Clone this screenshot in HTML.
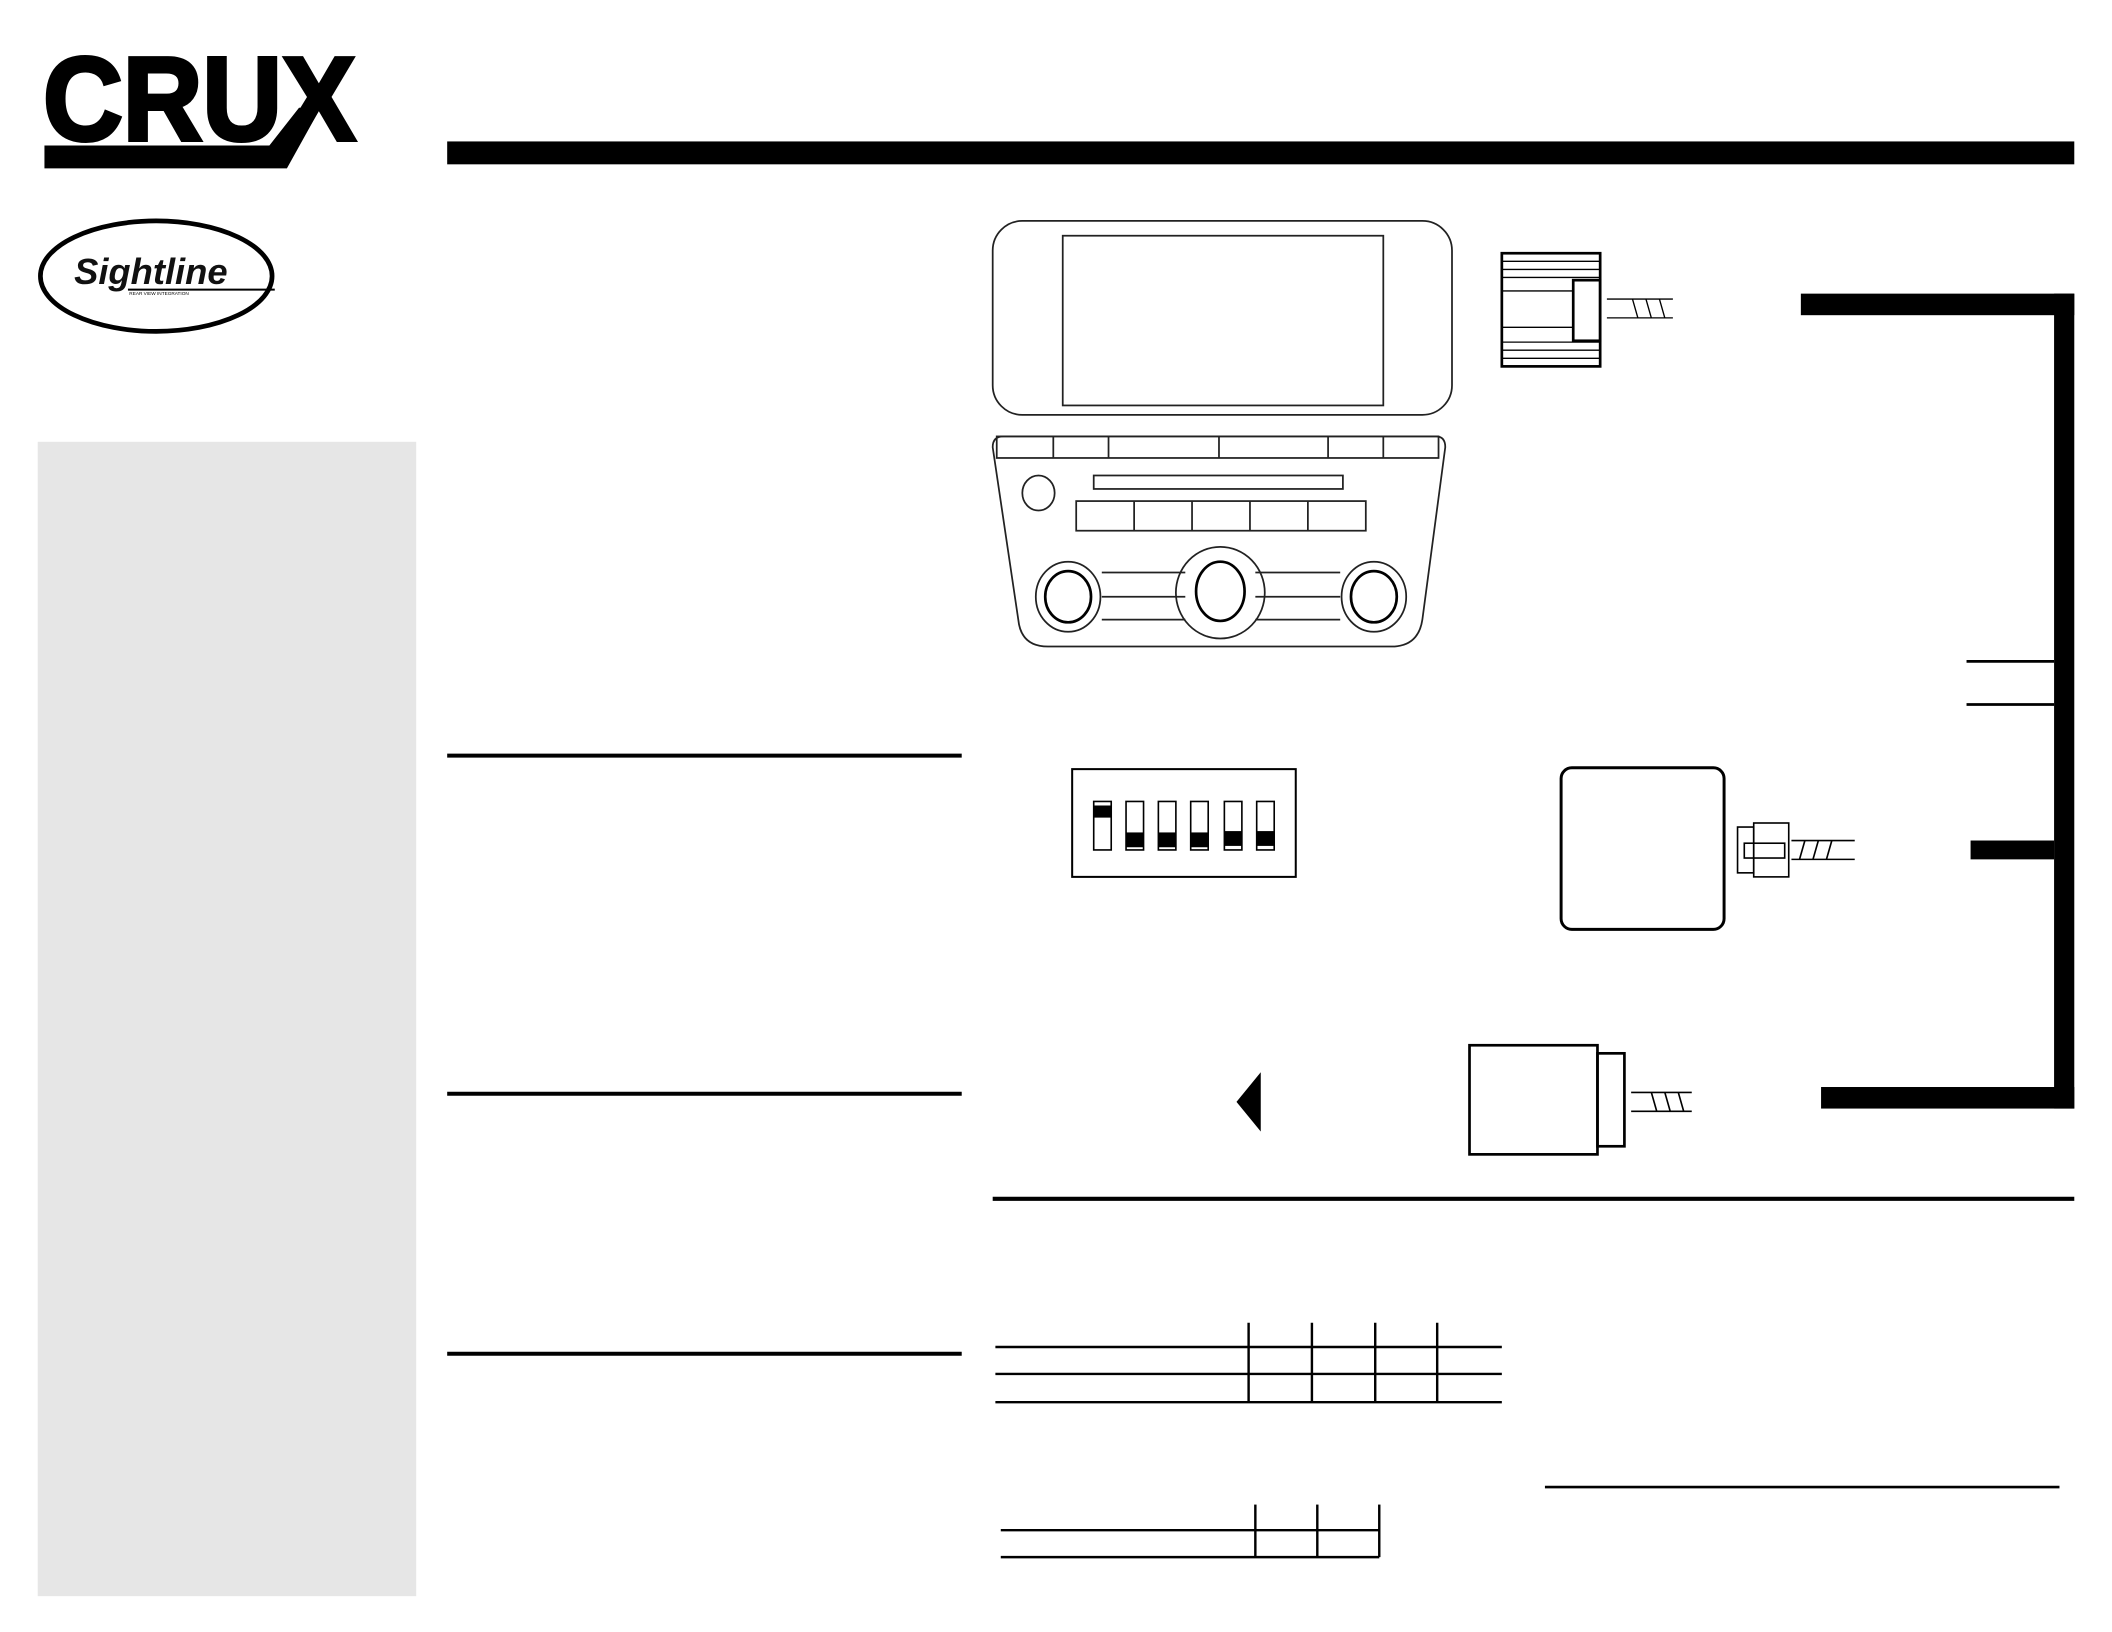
<!DOCTYPE html>
<html><head><meta charset="utf-8"><style>
html,body{margin:0;padding:0;background:#fff;}
svg{display:block;}
</style></head><body>
<svg width="2112" height="1632" viewBox="0 0 1568 1211.6" preserveAspectRatio="none" xmlns="http://www.w3.org/2000/svg">
<rect width="1568" height="1212" fill="#fff"/>
<!-- CRUX logo -->
<text x="32" y="104" font-family="Liberation Sans, sans-serif" font-weight="bold" font-size="88" textLength="232" lengthAdjust="spacingAndGlyphs" fill="#000" stroke="#000" stroke-width="3">CRUX</text>
<polygon points="33,108 200,108 222,80 238,80 213,125 33,125" fill="#000"/>
<!-- header bar -->
<rect x="332" y="105" width="1208" height="17" fill="#000"/>
<!-- Sightline -->
<ellipse cx="116" cy="205" rx="86" ry="41" fill="none" stroke="#000" stroke-width="3.5"/>
<text x="55" y="211" font-family="Liberation Sans, sans-serif" font-style="italic" font-weight="bold" font-size="27" fill="#111">Sightline</text>
<line x1="95" y1="215" x2="204" y2="215" stroke="#000" stroke-width="1.5"/>
<text x="96" y="219" font-family="Liberation Sans, sans-serif" font-size="3.5" fill="#000">REAR VIEW INTEGRATION</text>
<!-- gray panel -->
<rect x="28" y="328" width="281" height="857" fill="#e6e6e6"/>
<!-- section lines -->
<g stroke="#000" stroke-width="3">
<line x1="332" y1="561" x2="714" y2="561"/>
<line x1="332" y1="812" x2="714" y2="812"/>
<line x1="332" y1="1005" x2="714" y2="1005"/>
<line x1="737" y1="890" x2="1540" y2="890"/>
</g>
<line x1="1147" y1="1104" x2="1529" y2="1104" stroke="#000" stroke-width="2"/>
<!-- screen -->
<g fill="none" stroke="#222" stroke-width="1.3">
<rect x="737" y="164" width="341" height="144" rx="22"/>
<rect x="789" y="175" width="238" height="126"/>
<!-- radio -->
<path d="M745,324 L1066,324 Q1073,324 1073,332 L1056,460 Q1053,480 1033,480 L778,480 Q758,480 756,460 L737,332 Q737,324 745,324 Z"/>
<rect x="740" y="324" width="328" height="16"/>
<line x1="782" y1="324" x2="782" y2="340"/><line x1="823" y1="324" x2="823" y2="340"/>
<line x1="905" y1="324" x2="905" y2="340"/><line x1="986" y1="324" x2="986" y2="340"/>
<line x1="1027" y1="324" x2="1027" y2="340"/>
<ellipse cx="771" cy="366" rx="12" ry="13"/>
<rect x="812" y="353" width="185" height="10"/>
<rect x="799" y="372" width="215" height="22"/>
<line x1="842" y1="372" x2="842" y2="394"/><line x1="885" y1="372" x2="885" y2="394"/>
<line x1="928" y1="372" x2="928" y2="394"/><line x1="971" y1="372" x2="971" y2="394"/>
<line x1="818" y1="425" x2="880" y2="425"/><line x1="932" y1="425" x2="995" y2="425"/>
<line x1="818" y1="443" x2="880" y2="443"/><line x1="932" y1="443" x2="995" y2="443"/>
<line x1="818" y1="460" x2="880" y2="460"/><line x1="932" y1="460" x2="995" y2="460"/>
<ellipse cx="793" cy="443" rx="24" ry="26"/>
<ellipse cx="906" cy="440" rx="33" ry="34"/>
<ellipse cx="1020" cy="443" rx="24" ry="26"/>
</g>
<g fill="none" stroke="#000" stroke-width="2">
<ellipse cx="793" cy="443" rx="17" ry="19"/>
<ellipse cx="906" cy="439" rx="18" ry="22"/>
<ellipse cx="1020" cy="443" rx="17" ry="19"/>
</g>
<!-- top connector -->
<g fill="none" stroke="#000">
<rect x="1115" y="188" width="73" height="84" stroke-width="2"/>
<line x1="1115" y1="194" x2="1188" y2="194"/><line x1="1115" y1="200" x2="1188" y2="200"/>
<line x1="1115" y1="206" x2="1188" y2="206"/>
<line x1="1115" y1="254" x2="1188" y2="254"/><line x1="1115" y1="260" x2="1188" y2="260"/>
<line x1="1115" y1="266" x2="1188" y2="266"/>
<line x1="1115" y1="216" x2="1168" y2="216"/><line x1="1115" y1="243" x2="1168" y2="243"/>
<rect x="1168" y="208" width="20" height="45" stroke-width="2"/>
<line x1="1193" y1="222" x2="1242" y2="222"/><line x1="1193" y1="236" x2="1242" y2="236"/>
<line x1="1212" y1="222" x2="1216" y2="236"/><line x1="1222" y1="222" x2="1226" y2="236"/><line x1="1232" y1="222" x2="1236" y2="236"/>
</g>
<!-- bracket -->
<g fill="#000">
<rect x="1337" y="218" width="203" height="16"/>
<rect x="1525" y="218" width="15" height="605"/>
<rect x="1352" y="807" width="188" height="16"/>
<rect x="1463" y="624" width="62" height="14"/>
</g>
<line x1="1460" y1="491" x2="1525" y2="491" stroke="#000" stroke-width="2"/>
<line x1="1460" y1="523" x2="1525" y2="523" stroke="#000" stroke-width="2"/>
<!-- dip switch -->
<rect x="796" y="571" width="166" height="80" fill="none" stroke="#000" stroke-width="1.5"/>
<g stroke="#000" stroke-width="1.2" fill="#fff">
<rect x="812" y="595" width="13" height="36"/>
<rect x="836" y="595" width="13" height="36"/>
<rect x="860" y="595" width="13" height="36"/>
<rect x="884" y="595" width="13" height="36"/>
<rect x="909" y="595" width="13" height="36"/>
<rect x="933" y="595" width="13" height="36"/>
</g>
<g fill="#000">
<rect x="812" y="598" width="13" height="9"/>
<rect x="836" y="618" width="13" height="11"/>
<rect x="860" y="618" width="13" height="11"/>
<rect x="884" y="618" width="13" height="11"/>
<rect x="909" y="617" width="13" height="11"/>
<rect x="933" y="617" width="13" height="11"/>
</g>
<!-- module -->
<rect x="1159" y="570" width="121" height="120" rx="8" fill="none" stroke="#000" stroke-width="2.2"/>
<g fill="none" stroke="#000" stroke-width="1.2">
<rect x="1290" y="614" width="12" height="34"/>
<rect x="1302" y="611" width="26" height="40"/>
<rect x="1295" y="626" width="30" height="11"/>
<line x1="1330" y1="624" x2="1377" y2="624"/><line x1="1330" y1="638" x2="1377" y2="638"/>
<line x1="1340" y1="624" x2="1336" y2="638"/><line x1="1350" y1="624" x2="1346" y2="638"/><line x1="1360" y1="624" x2="1356" y2="638"/>
</g>
<!-- triangle -->
<polygon points="918,818 936,796 936,840" fill="#000"/>
<!-- camera -->
<g fill="none" stroke="#000" stroke-width="2">
<rect x="1091" y="776" width="95" height="81"/>
<rect x="1186" y="782" width="20" height="69"/>
</g>
<g stroke="#000" stroke-width="1.2">
<line x1="1211" y1="811" x2="1256" y2="811"/><line x1="1211" y1="825" x2="1256" y2="825"/>
<line x1="1226" y1="811" x2="1230" y2="825"/><line x1="1236" y1="811" x2="1240" y2="825"/><line x1="1246" y1="811" x2="1250" y2="825"/>
</g>
<!-- table 1 -->
<g stroke="#000" stroke-width="1.8">
<line x1="739" y1="1000" x2="1115" y2="1000"/>
<line x1="739" y1="1020" x2="1115" y2="1020"/>
<line x1="739" y1="1041" x2="1115" y2="1041"/>
<line x1="927" y1="982" x2="927" y2="1041"/>
<line x1="974" y1="982" x2="974" y2="1041"/>
<line x1="1021" y1="982" x2="1021" y2="1041"/>
<line x1="1067" y1="982" x2="1067" y2="1041"/>
<!-- table 2 -->
<line x1="743" y1="1136" x2="1024" y2="1136"/>
<line x1="743" y1="1156" x2="1024" y2="1156"/>
<line x1="932" y1="1117" x2="932" y2="1156"/>
<line x1="978" y1="1117" x2="978" y2="1156"/>
<line x1="1024" y1="1117" x2="1024" y2="1156"/>
</g>
</svg>
</body></html>
